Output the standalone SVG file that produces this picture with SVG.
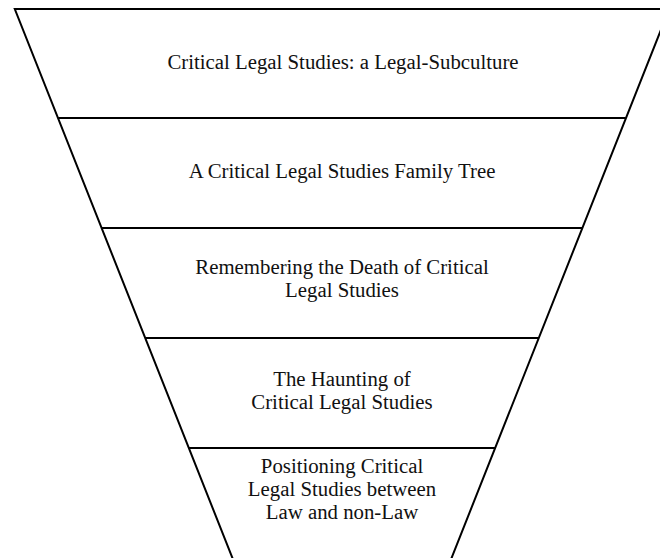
<svg xmlns="http://www.w3.org/2000/svg" width="660" height="558" viewBox="0 0 660 558">
<style>
.shape{fill:#fff;stroke:#000;stroke-width:2}
.div{stroke:#000;stroke-width:2}
text{font-family:"Liberation Serif","Times New Roman",serif;font-size:20.8px;fill:#111;text-anchor:middle}
</style>
<rect width="660" height="558" fill="#fff"/>
<g id="funnel">
<polygon class="shape" points="14.8,9 669.2,9 446.8,570 237.2,570"/>
</g>
<g id="connectors">
<line class="div" x1="58.3" y1="118" x2="625.7" y2="118"/>
<line class="div" x1="101.6" y1="228" x2="582.4" y2="228"/>
<line class="div" x1="145.2" y1="338" x2="538.8" y2="338"/>
<line class="div" x1="188.8" y1="448" x2="495.2" y2="448"/>
</g>
<g id="level1"><text x="343" y="69">Critical Legal Studies: a Legal-Subculture</text></g>
<g id="level2"><text x="342" y="178">A Critical Legal Studies Family Tree</text></g>
<g id="level3"><text x="342" y="274">Remembering the Death of Critical</text><text x="342" y="297">Legal Studies</text></g>
<g id="level4"><text x="342" y="386">The Haunting of</text><text x="342" y="409">Critical Legal Studies</text></g>
<g id="level5"><text x="342" y="473">Positioning Critical</text><text x="342" y="496">Legal Studies between</text><text x="342" y="519">Law and non-Law</text></g>
</svg>
